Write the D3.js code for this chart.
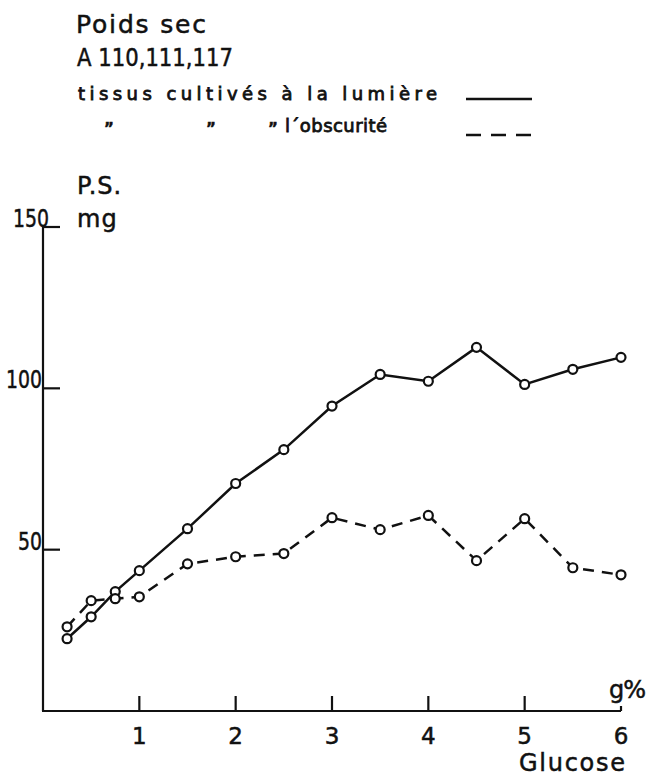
<!DOCTYPE html>
<html>
<head>
<meta charset="utf-8">
<script src="https://cdn.jsdelivr.net/npm/d3@7"></script>
<style>
  body { margin: 0; background: #fff; }
  text { font-family: "DejaVu Sans", sans-serif; fill: #111; stroke: #111; stroke-width: 0.5px; }
</style>
</head>
<body>
<script>
// Data
const glucose = [0.25, 0.5, 0.75, 1, 1.5, 2, 2.5, 3, 3.5, 4, 4.5, 5, 5.5, 6];
const lumiere = [22.4, 29.2, 37, 43.5, 56.5, 70.5, 81, 94.5, 104.3, 102.2, 112.7, 101.2, 105.9, 109.6];
const obscurite = [26.1, 34.2, 34.8, 35.4, 45.6, 47.8, 48.8, 59.9, 56.2, 60.6, 46.6, 59.6, 44.4, 42.2];
const xTicks = [1, 2, 3, 4, 5, 6];
const yTicks = [50, 100, 150];

const width = 648, height = 778;

const svg = d3.select("body").append("svg")
    .attr("width", width)
    .attr("height", height);

const x = d3.scaleLinear().domain([0, 6]).range([43, 621]);
const y = d3.scaleLinear().domain([0, 150]).range([711, 227]);

// Title block
svg.append("text").attr("x", 76).attr("y", 33)
    .attr("font-size", 25).attr("textLength", 130).attr("lengthAdjust", "spacing")
    .text("Poids sec");
svg.append("text").attr("x", 77).attr("y", 66)
    .attr("font-size", 24).attr("textLength", 156).attr("lengthAdjust", "spacingAndGlyphs")
    .text("A 110,111,117");
svg.append("text").attr("x", 78).attr("y", 100)
    .attr("font-size", 18).style("stroke-width", "0.8px")
    .attr("textLength", 359).attr("lengthAdjust", "spacing")
    .text("tissus cultivés à la lumière");

// ditto marks + second legend line
[104, 206, 268].forEach(px => {
  svg.append("text").attr("x", px).attr("y", 134)
      .attr("font-size", 15).attr("font-weight", "bold").text("\u201D");
});
svg.append("text").attr("x", 285).attr("y", 132)
    .attr("font-size", 18).style("stroke-width", "0.8px")
    .attr("textLength", 102).attr("lengthAdjust", "spacing")
    .text("l\u00B4obscurité");

svg.append("line").attr("x1", 466).attr("x2", 532).attr("y1", 99).attr("y2", 99)
    .attr("stroke", "#111").attr("stroke-width", 2.5);
svg.append("line").attr("x1", 466).attr("x2", 532).attr("y1", 135).attr("y2", 135)
    .attr("stroke", "#111").attr("stroke-width", 2.5).attr("stroke-dasharray", "15,10");

// Unit labels
svg.append("text").attr("x", 77).attr("y", 194).attr("font-size", 24)
    .attr("letter-spacing", 1).text("P.S.");
svg.append("text").attr("x", 77).attr("y", 227).attr("font-size", 24)
    .attr("letter-spacing", 1).text("mg");

// Axes
const g = svg.append("g").attr("stroke", "#111").attr("stroke-width", 2.2);
g.append("line").attr("x1", x(0)).attr("x2", x(0)).attr("y1", y(150)).attr("y2", y(0));
g.append("line").attr("x1", x(0) - 1).attr("x2", x(6)).attr("y1", y(0)).attr("y2", y(0));

g.selectAll(".ytick").data(yTicks).enter().append("line")
    .attr("x1", x(0)).attr("x2", x(0) + 17)
    .attr("y1", d => y(d)).attr("y2", d => y(d));

g.selectAll(".xtick").data(xTicks).enter().append("line")
    .attr("x1", d => x(d)).attr("x2", d => x(d))
    .attr("y1", y(0)).attr("y2", d => d === 6 ? y(0) - 5 : y(0) - 15);

svg.selectAll(".ylab").data(yTicks).enter().append("text")
    .attr("x", d => d === 150 ? x(0) + 6 : x(0) - 1).attr("y", d => y(d))
    .attr("text-anchor", "end").attr("font-size", 25)
    .attr("textLength", d => String(d).length * 12).attr("lengthAdjust", "spacingAndGlyphs")
    .text(d => d);

svg.selectAll(".xlab").data(xTicks).enter().append("text")
    .attr("x", d => x(d)).attr("y", 744)
    .attr("text-anchor", "middle").attr("font-size", 23)
    .text(d => d);

svg.append("text").attr("x", 609).attr("y", 698).attr("font-size", 24)
    .attr("letter-spacing", -1).text("g%");
svg.append("text").attr("x", 519).attr("y", 771)
    .attr("font-size", 24).attr("textLength", 106).attr("lengthAdjust", "spacing")
    .text("Glucose");

// Series
const line = d3.line().x(d => x(d[0])).y(d => y(d[1]));
const series = [
  { vals: lumiere, dash: null },
  { vals: obscurite, dash: "11,8" }
];

series.forEach(s => {
  const pts = glucose.map((gx, i) => [gx, s.vals[i]]);
  svg.append("path").datum(pts)
      .attr("d", line)
      .attr("fill", "none").attr("stroke", "#111").attr("stroke-width", 2.5)
      .attr("stroke-dasharray", s.dash);
  svg.append("g").selectAll("circle").data(pts).enter().append("circle")
      .attr("cx", d => x(d[0])).attr("cy", d => y(d[1])).attr("r", 4.5)
      .attr("fill", "#fff").attr("stroke", "#111").attr("stroke-width", 2.2);
});
</script>
</body>
</html>
